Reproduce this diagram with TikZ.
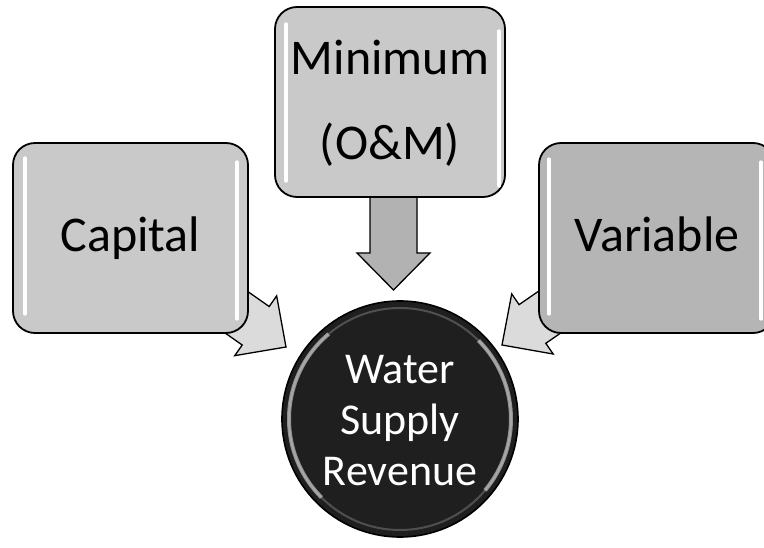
\documentclass[tikz,border=0pt]{standalone}
\usepackage{fontspec}
\setmainfont{Carlito}
\usetikzlibrary{calc}
\newcommand\blockarrow[3][]{%
  \coordinate (ba-h) at ($(#3)!37pt!(#2)$);
  \path[blockarr,#1] ($(#2)!23.5pt!90:(#3)$) -- ($(ba-h)!23.5pt!90:(#3)$)
    -- ($(ba-h)!36.5pt!90:(#3)$) -- (#3) -- ($(ba-h)!36.5pt!-90:(#3)$)
    -- ($(ba-h)!23.5pt!-90:(#3)$) -- ($(#2)!23.5pt!-90:(#3)$) -- cycle;}
\tikzset{
  box/.style={draw=black, line width=1.8pt, rounded corners=22pt,
    minimum height=190pt, inner sep=0pt, font=\fontsize{50}{60}\selectfont},
  blockarr/.style={draw=black, line width=1.3pt, fill=gray!28, line join=miter},
  gloss/.style={draw=white, line width=3.5pt, line cap=round},
  hub/.style={circle, draw=black, line width=1.6pt, fill=black!88,
    minimum size=236pt, inner sep=0pt, text=white,
    font=\fontsize{44}{51}\selectfont},
  rim/.style={draw=white, line width=4pt, opacity=0.5}
}
\begin{document}
\begin{tikzpicture}[x=1pt, y=-1pt]
\clip (0,0) rectangle (764,548);
\fill[white] (0,0) rectangle (764,548);
% anchor points of the connectors
\coordinate (capc) at (130.5,238);
\coordinate (varc) at (657,238);
\coordinate (minb) at (393.5,190);
\coordinate (tipL) at (286,347);
\coordinate (tipR) at (502,345);
\coordinate (tipD) at (393.5,290);
% connectors (drawn below the boxes)
\blockarrow{capc}{tipL}
\blockarrow{varc}{tipR}
\blockarrow[left color=gray!60, middle color=gray!18, right color=gray!60]{minb}{tipD}
% boxes
\node[box, fill=gray!42, minimum width=235pt] (cap) at (capc)
  {\raisebox{0pt}[28pt][0pt]{Capital}};
\node[box, fill=gray!42, minimum width=230pt] (min) at (390,102)
  {\raisebox{0pt}[116pt][0pt]{\begin{tabular}[b]{@{}c@{}}Minimum\\[25pt](O\&M)\end{tabular}}};
\node[box, fill=gray!58, minimum width=236pt] (var) at (varc)
  {\raisebox{0pt}[28pt][0pt]{Variable}};
% glossy highlights
\draw[gloss] ($(cap.north west)+(13,16)$) -- ($(cap.south west)+(13,-20)$);
\draw[gloss] ($(cap.north east)+(-12,20)$) -- ($(cap.south east)+(-12,-15)$);
\draw[gloss] ($(min.north west)+(12,18)$) -- ($(min.south west)+(12,-17)$);
\draw[gloss] ($(min.north east)+(-7,25)$) -- ($(min.south east)+(-7,-12)$);
\draw[gloss] ($(var.north west)+(11,17)$) -- ($(var.south west)+(11,-20)$);
\draw[gloss] ($(var.north east)+(-15,20)$) -- ($(var.south east)+(-15,-15)$);
% hub
\node[hub] (circ) at (400,419)
  {\raisebox{0pt}[132pt][0pt]{\begin{tabular}[b]{@{}c@{}}Water\\Supply\\Revenue\end{tabular}}};
\draw[draw=gray, line width=2pt, opacity=0.5] (circ.center) circle[radius=111];
\draw[rim] (circ.center) ++(135:111) arc[start angle=135, end angle=230, radius=111];
\draw[rim] (circ.center) ++(-45:111) arc[start angle=-45, end angle=40, radius=111];
\end{tikzpicture}
\end{document}
